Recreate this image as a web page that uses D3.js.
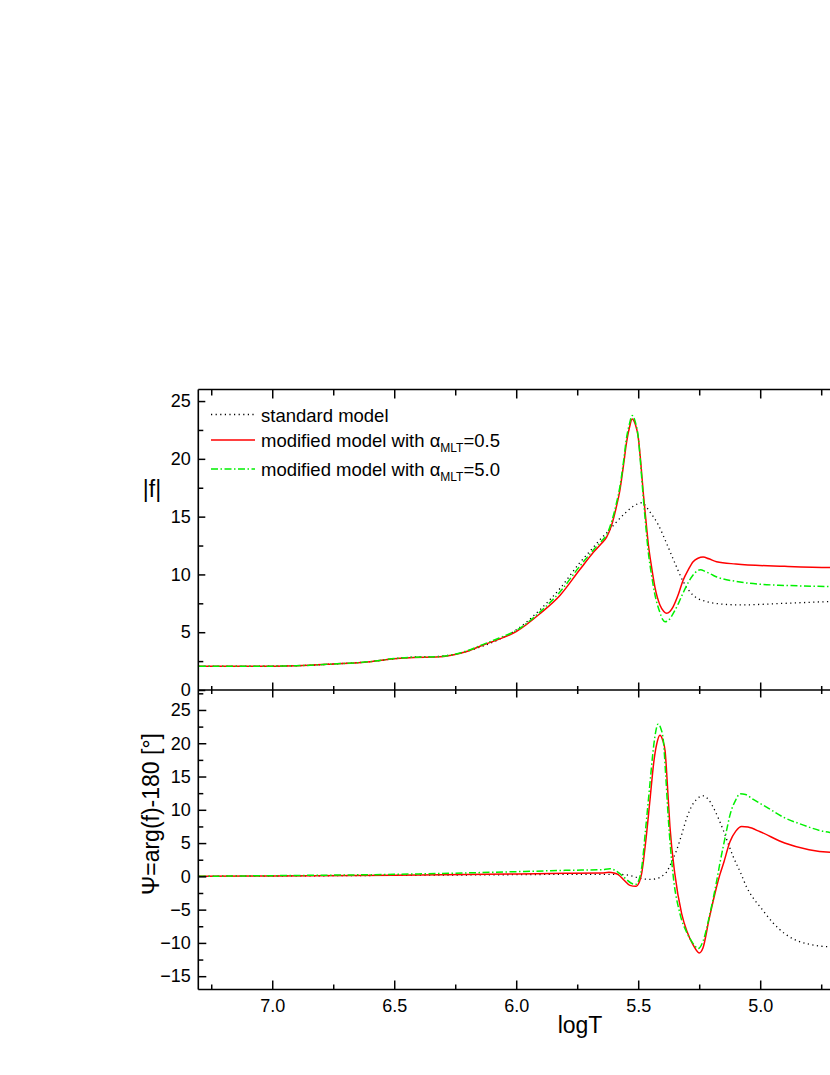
<!DOCTYPE html>
<html>
<head>
<meta charset="utf-8">
<script src="https://cdn.jsdelivr.net/npm/d3@7"></script>
<style>
  html, body { margin: 0; padding: 0; background: #fff; }
  svg { display: block; font-family: "Liberation Sans", Arial, sans-serif; }
</style>
</head>
<body>
<svg id="chart" width="830" height="1075"></svg>
<script>
// ---------- DATA ----------
// x: logT, value
const xMajorTicks = [7.0, 6.5, 6.0, 5.5, 5.0];
const xMinorTicks = [7.25, 6.75, 6.25, 5.75, 5.25, 4.75];
const topMajorTicks = [0, 5, 10, 15, 20, 25];
const topMinorTicks = [2.5, 7.5, 12.5, 17.5, 22.5];
const botMajorTicks = [-15, -10, -5, 0, 5, 10, 15, 20, 25];
const botMinorTicks = [-12.5, -7.5, -2.5, 2.5, 7.5, 12.5, 17.5, 22.5, 27.5];

const seriesNames = ["standard model", "modified model with \u03b1MLT=0.5", "modified model with \u03b1MLT=5.0"];
const alphaValues = ["0.5", "5.0"];

// |f| panel
const absStd = [[7.30,2.05],[7.1,2.05],[6.9,2.1],[6.75,2.25],[6.6,2.45],[6.5,2.7],[6.42,2.85],[6.33,2.9],[6.25,3.1],[6.15,3.7],[6.05,4.6],[6.0,5.2],[5.9,7.0],[5.82,8.8],[5.74,11.0],[5.69,12.2],[5.657,13.0],[5.62,13.8],[5.595,14.4],[5.554,15.3],[5.52,15.9],[5.486,16.2],[5.452,15.4],[5.418,14.3],[5.384,12.7],[5.35,11.0],[5.316,9.4],[5.275,8.2],[5.22,7.65],[5.165,7.45],[5.083,7.36],[4.9,7.5],[4.71,7.65],[4.6,7.7]];
const absA05 = [[7.30,2.05],[7.1,2.05],[6.9,2.1],[6.75,2.25],[6.6,2.45],[6.5,2.7],[6.42,2.82],[6.33,2.85],[6.26,3.03],[6.2,3.35],[6.135,3.9],[6.07,4.4],[6.0,5.05],[5.9,6.65],[5.82,8.2],[5.74,10.4],[5.68,12.0],[5.65,12.7],[5.63,13.2],[5.61,14.2],[5.59,15.8],[5.575,17.3],[5.56,19.5],[5.548,21.4],[5.535,22.8],[5.525,23.45],[5.512,23.0],[5.50,21.9],[5.49,19.8],[5.479,17.0],[5.469,14.8],[5.459,12.7],[5.445,10.6],[5.432,8.95],[5.411,7.36],[5.395,6.8],[5.384,6.64],[5.37,6.8],[5.357,7.2],[5.335,8.3],[5.316,9.5],[5.295,10.4],[5.275,11.1],[5.255,11.4],[5.234,11.5],[5.21,11.35],[5.179,11.1],[5.1,10.9],[4.9,10.7],[4.71,10.6],[4.6,10.6]];
const absA50 = [[7.30,2.05],[7.1,2.05],[6.9,2.1],[6.75,2.25],[6.6,2.45],[6.5,2.72],[6.42,2.84],[6.33,2.87],[6.26,3.05],[6.2,3.4],[6.135,3.95],[6.07,4.5],[6.0,5.15],[5.9,6.8],[5.82,8.5],[5.74,10.7],[5.68,12.2],[5.65,12.9],[5.63,13.4],[5.61,14.5],[5.59,16.1],[5.575,17.6],[5.56,19.8],[5.548,21.8],[5.535,23.1],[5.525,23.75],[5.512,23.2],[5.50,21.9],[5.49,19.5],[5.479,16.6],[5.469,14.2],[5.459,12.0],[5.445,9.9],[5.432,8.3],[5.411,6.7],[5.40,6.1],[5.39,5.9],[5.375,6.05],[5.357,6.6],[5.335,7.5],[5.316,8.4],[5.295,9.3],[5.275,9.95],[5.255,10.35],[5.245,10.4],[5.225,10.25],[5.2,10.0],[5.18,9.8],[5.1,9.4],[5.0,9.15],[4.9,9.05],[4.71,8.95],[4.6,8.9]];

// Psi panel
const psiStd = [[7.30,0],[7.0,0.05],[6.5,0.15],[6.0,0.25],[5.8,0.3],[5.575,0.3],[5.52,0.0],[5.493,-0.3],[5.45,-0.45],[5.424,-0.35],[5.40,0.1],[5.384,0.65],[5.365,2.0],[5.343,3.9],[5.32,6.5],[5.30,8.9],[5.28,10.6],[5.26,11.6],[5.234,12.1],[5.213,11.6],[5.193,10.4],[5.17,8.6],[5.151,6.9],[5.13,4.8],[5.11,2.9],[5.08,0.5],[5.056,-1.6],[5.03,-3.2],[5.0,-4.6],[4.947,-7.0],[4.9,-8.6],[4.865,-9.4],[4.8,-10.2],[4.75,-10.5],[4.71,-10.6],[4.6,-10.7]];
const psiA05 = [[7.30,0],[7.0,0.05],[6.5,0.15],[6.0,0.35],[5.8,0.45],[5.65,0.5],[5.62,0.6],[5.6,0.5],[5.582,0.25],[5.56,-0.5],[5.534,-1.35],[5.51,-1.5],[5.495,-0.8],[5.486,0.4],[5.47,5.0],[5.452,11.4],[5.435,17.5],[5.424,19.9],[5.411,21.2],[5.40,20.5],[5.39,18.9],[5.38,13.5],[5.37,7.5],[5.35,0.4],[5.322,-5.6],[5.3,-8.3],[5.275,-10.3],[5.25,-11.5],[5.235,-10.8],[5.21,-6.5],[5.185,-2.5],[5.165,0.3],[5.15,2.0],[5.124,5.2],[5.1,6.8],[5.076,7.5],[5.05,7.4],[5.0,6.7],[4.9,5.0],[4.8,4.0],[4.71,3.6],[4.6,3.5]];
const psiA50 = [[7.30,0],[7.0,0.1],[6.5,0.3],[6.0,0.7],[5.8,0.9],[5.65,1.0],[5.616,1.15],[5.6,1.0],[5.582,0.6],[5.55,-0.4],[5.53,-1.0],[5.51,-1.2],[5.495,-0.3],[5.485,1.5],[5.47,7],[5.452,13.9],[5.44,18.5],[5.432,20.9],[5.418,22.9],[5.408,22.3],[5.397,20.4],[5.387,15],[5.377,8.9],[5.357,0.2],[5.329,-5.6],[5.3,-8.5],[5.275,-10.1],[5.254,-10.85],[5.235,-9.8],[5.206,-5.6],[5.18,-1.0],[5.165,2.0],[5.14,6.5],[5.124,9.2],[5.1,11.5],[5.083,12.4],[5.06,12.3],[5.03,11.6],[4.974,10.4],[4.9,8.8],[4.838,7.9],[4.714,6.6],[4.6,6.4]];

// ---------- LAYOUT ----------
const svg = d3.select("#chart");
const L = 198.3, TOP = 389.5, MID = 690, BOT = 989.5, RIGHT = 882.2;
const x = d3.scaleLinear().domain([7.303, 4.5]).range([L, RIGHT]);
const yTop = d3.scaleLinear().domain([0, 26]).range([MID, TOP]);
const yBot = d3.scaleLinear().domain([-17, 28]).range([BOT, MID]);

const styles = [
  { color: "#000000", dash: "1.2,3.4", width: 1.3 },
  { color: "#ff0000", dash: null, width: 1.5 },
  { color: "#00f000", dash: "7,2.5,1.5,2.5", width: 1.5 }
];

const defs = svg.append("defs");
defs.append("clipPath").attr("id", "clipTop").append("rect")
  .attr("x", L).attr("y", TOP).attr("width", RIGHT - L).attr("height", MID - TOP);
defs.append("clipPath").attr("id", "clipBot").append("rect")
  .attr("x", L).attr("y", MID).attr("width", RIGHT - L).attr("height", BOT - MID);

function drawSeries(data, yScale, st, clip) {
  const line = d3.line().x(d => x(d[0])).y(d => yScale(d[1])).curve(d3.curveMonotoneX);
  const p = svg.append("path").datum(data)
    .attr("clip-path", `url(#${clip})`)
    .attr("fill", "none").attr("stroke", st.color)
    .attr("stroke-width", st.width).attr("d", line);
  if (st.dash) p.attr("stroke-dasharray", st.dash);
}

[absStd, absA05, absA50].forEach((d, i) => drawSeries(d, yTop, styles[i], "clipTop"));
[psiStd, psiA05, psiA50].forEach((d, i) => drawSeries(d, yBot, styles[i], "clipBot"));

// ---------- AXES ----------
function styleAxis(g) {
  g.select(".domain").remove();
  g.selectAll("line").attr("stroke", "#000").attr("stroke-width", 1.5);
  g.selectAll("text").attr("fill", "#000").style("font-size", "18px")
    .style("font-family", '"Liberation Sans", Arial, sans-serif');
}

// top spine ticks (pointing down)
svg.append("g").attr("transform", `translate(0,${TOP})`)
  .call(d3.axisBottom(x).tickValues(xMajorTicks).tickSize(9).tickFormat("")).call(styleAxis);
svg.append("g").attr("transform", `translate(0,${TOP})`)
  .call(d3.axisBottom(x).tickValues(xMinorTicks).tickSize(6).tickFormat("")).call(styleAxis);
// middle line ticks (crossing)
svg.append("g").attr("transform", `translate(0,${MID - 7.5})`)
  .call(d3.axisBottom(x).tickValues(xMajorTicks).tickSize(15).tickFormat("")).call(styleAxis);
svg.append("g").attr("transform", `translate(0,${MID - 4})`)
  .call(d3.axisBottom(x).tickValues(xMinorTicks).tickSize(8).tickFormat("")).call(styleAxis);
// bottom ticks (pointing up)
svg.append("g").attr("transform", `translate(0,${BOT})`)
  .call(d3.axisTop(x).tickValues(xMajorTicks).tickSize(9).tickFormat("")).call(styleAxis);
svg.append("g").attr("transform", `translate(0,${BOT})`)
  .call(d3.axisTop(x).tickValues(xMinorTicks).tickSize(5).tickFormat("")).call(styleAxis);
// bottom labels
svg.append("g").attr("transform", `translate(0,${BOT})`)
  .call(d3.axisBottom(x).tickValues(xMajorTicks).tickSize(0).tickPadding(10).tickFormat(d3.format(".1f")))
  .call(styleAxis);

// left ticks, top panel
svg.append("g").attr("transform", `translate(${L},0)`)
  .call(d3.axisRight(yTop).tickValues(topMajorTicks).tickSize(7).tickFormat("")).call(styleAxis);
svg.append("g").attr("transform", `translate(${L},0)`)
  .call(d3.axisRight(yTop).tickValues(topMinorTicks).tickSize(5).tickFormat("")).call(styleAxis);
svg.append("g").attr("transform", `translate(${L},0)`)
  .call(d3.axisLeft(yTop).tickValues(topMajorTicks).tickSize(0).tickPadding(7.5).tickFormat(d3.format("d")))
  .call(styleAxis);
// left ticks, bottom panel
svg.append("g").attr("transform", `translate(${L},0)`)
  .call(d3.axisRight(yBot).tickValues(botMajorTicks).tickSize(8).tickFormat("")).call(styleAxis);
svg.append("g").attr("transform", `translate(${L},0)`)
  .call(d3.axisRight(yBot).tickValues(botMinorTicks).tickSize(5).tickFormat("")).call(styleAxis);
svg.append("g").attr("transform", `translate(${L},0)`)
  .call(d3.axisLeft(yBot).tickValues(botMajorTicks).tickSize(0).tickPadding(7.5).tickFormat(d3.format("d")))
  .call(styleAxis);

// spines
const spine = svg.append("g").attr("stroke", "#000").attr("stroke-width", 1.6);
spine.append("line").attr("x1", L).attr("x2", L).attr("y1", TOP).attr("y2", BOT);
[TOP, MID, BOT].forEach(yy => spine.append("line").attr("x1", L).attr("x2", 830).attr("y1", yy).attr("y2", yy));

// axis titles
svg.append("text").attr("x", 152).attr("y", 497).attr("text-anchor", "middle")
  .style("font-size", "23px").text("|f|");
svg.append("text").attr("transform", "translate(159,814) rotate(-90)").attr("text-anchor", "middle")
  .style("font-size", "23px").text("\u03a8=arg(f)-180 [\u00b0]");
svg.append("text").attr("x", 580).attr("y", 1033).attr("text-anchor", "middle")
  .style("font-size", "23px").text("logT");

// ---------- LEGEND ----------
const legRows = [414.5, 440, 469];
const legBase = [422, 447, 476];
legRows.forEach((ly, i) => {
  const st = styles[i];
  const ln = svg.append("line").attr("x1", 211).attr("x2", 255).attr("y1", ly).attr("y2", ly)
    .attr("stroke", st.color).attr("stroke-width", st.width);
  if (st.dash) ln.attr("stroke-dasharray", st.dash);
  const t = svg.append("text").attr("x", 261).attr("y", legBase[i]).style("font-size", "18.5px");
  if (i === 0) {
    t.text(seriesNames[0]);
  } else {
    t.append("tspan").text("modified model with \u03b1");
    t.append("tspan").attr("dy", 5).style("font-size", "12px").text("MLT");
    t.append("tspan").attr("dy", -5).text("=" + alphaValues[i - 1]);
  }
});
</script>
</body>
</html>
